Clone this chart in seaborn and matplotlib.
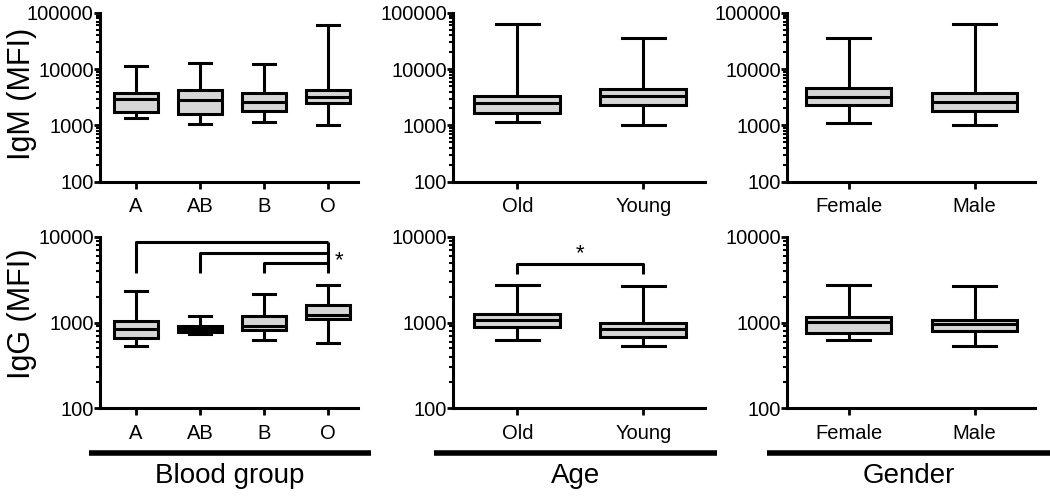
import numpy as np
import pandas as pd
import seaborn as sns
from matplotlib import pyplot as plt
from matplotlib import ticker
from matplotlib.lines import Line2D

BLOOD = ["A", "AB", "B", "O"]
AGE = ["Old", "Young"]
GENDER = ["Female", "Male"]

# five-number summaries: min, q1, median, q3, max
IGM_BLOOD = [[1365, 1740, 2900, 3790, 11300],
             [1040, 1580, 2820, 4280, 13100],
             [1130, 1780, 2640, 3790, 12400],
             [1030, 2460, 3140, 4340, 62400]]
IGM_AGE = [[1140, 1660, 2510, 3360, 63000],
           [1030, 2300, 3300, 4430, 36500]]
IGM_GENDER = [[1120, 2300, 3160, 4690, 36500],
              [1030, 1820, 2620, 3700, 63000]]

IGG_BLOOD = [[537, 659, 847, 1040, 2350],
             [734, 765, 847, 905, 1200],
             [625, 811, 910, 1200, 2170],
             [573, 1100, 1220, 1585, 2740]]
IGG_AGE = [[625, 893, 1070, 1250, 2740],
           [537, 671, 834, 986, 2690]]
IGG_GENDER = [[625, 760, 1020, 1170, 2740],
              [537, 796, 961, 1080, 2690]]

# significance brackets (bottom row): (from, to, bracket height)
BLOOD_BRACKETS = [("A", "O", 8750), ("AB", "O", 6410), ("B", "O", 4900)]
BRACKET_FOOT = 3740
AGE_BRACKET = ("Old", "Young", 4770, 3650)

FILL = "#d6d6d6"
LW = 2.2

plt.rcParams["font.family"] = ["Liberation Sans", "DejaVu Sans"]


def long_df(cats, summaries):
    rows = []
    for cat, vals in zip(cats, summaries):
        for v in vals:
            rows.append({"group": cat, "value": v})
    return pd.DataFrame(rows)


def draw(ax, cats, summaries, ylim, xlim):
    df = long_df(cats, summaries)
    sns.boxplot(data=df, x="group", y="value", order=cats, whis=(0, 100),
                width=0.68, color=FILL, saturation=1, linecolor="black",
                linewidth=LW, log_scale=True, ax=ax)
    ax.set_ylim(*ylim)
    ax.set_xlim(*xlim)
    ax.yaxis.set_major_locator(ticker.LogLocator(base=10, numticks=10))
    ax.yaxis.set_major_formatter(ticker.FuncFormatter(lambda v, _: f"{v:.0f}"))
    ax.yaxis.set_minor_locator(ticker.LogLocator(base=10, subs=np.arange(2, 10), numticks=20))
    ax.yaxis.set_minor_formatter(ticker.NullFormatter())
    ax.set_xlabel("")
    ax.set_ylabel("")
    sns.despine(ax=ax)
    for s in ("left", "bottom"):
        ax.spines[s].set_linewidth(LW)
    ax.tick_params(axis="both", which="major", direction="out", length=4,
                   width=2, labelsize=14.5, pad=0.5)
    ax.tick_params(axis="x", pad=6, length=5)
    ax.tick_params(axis="y", which="minor", direction="out", length=3, width=1.5)


fig = plt.figure(figsize=(10.5, 4.99), dpi=100)

lefts = [100, 453, 787]
rights = [358, 705, 1035]
xlims = [(-0.56, 3.47), (-0.51, 1.49), (-0.49, 1.48)]
top_row = (13, 181.5)
bot_row = (236.7, 408.3)
W, H = 1050, 499


def make_ax(i, row):
    l, r = lefts[i], rights[i]
    t, b = row
    return fig.add_axes([l / W, 1 - b / H, (r - l) / W, (b - t) / H])


cats_list = [BLOOD, AGE, GENDER]
igm = [IGM_BLOOD, IGM_AGE, IGM_GENDER]
igg = [IGG_BLOOD, IGG_AGE, IGG_GENDER]

for i in range(3):
    ax_t = make_ax(i, top_row)
    draw(ax_t, cats_list[i], igm[i], (100, 100000), xlims[i])
    ax_b = make_ax(i, bot_row)
    draw(ax_b, cats_list[i], igg[i], (100, 10000), xlims[i])
    if i == 0:
        ax_t.set_ylabel("IgM (MFI)", fontsize=22)
        ax_t.yaxis.set_label_coords(-0.245, 0.52)
        ax_b.set_ylabel("IgG (MFI)", fontsize=22)
        ax_b.yaxis.set_label_coords(-0.245, 0.55)
        # brackets to O
        xo = BLOOD.index("O")
        for a, b, h in BLOOD_BRACKETS:
            xa = BLOOD.index(a)
            ax_b.plot([xa, xa, xo], [BRACKET_FOOT, h, h], color="black",
                      lw=LW, solid_capstyle="butt", clip_on=False)
        ax_b.plot([xo, xo], [BRACKET_FOOT, BLOOD_BRACKETS[0][2]], color="black",
                  lw=LW, solid_capstyle="butt", clip_on=False)
        ax_b.text(xo + 0.17, 5200, "*", fontsize=16, ha="center", va="center")
    if i == 1:
        a, b, h, foot = AGE_BRACKET
        xa, xb = AGE.index(a), AGE.index(b)
        ax_b.plot([xa, xa, xb, xb], [foot, h, h, foot], color="black",
                  lw=LW, solid_capstyle="butt", clip_on=False)
        ax_b.text((xa + xb) / 2, h * 1.0, "*", fontsize=16, ha="center", va="bottom")

# group bars and labels beneath each column
groups = ["Blood group", "Age", "Gender"]
bars = [(89, 371), (434, 717), (767, 1050)]
for name, (x0, x1) in zip(groups, bars):
    fig.add_artist(Line2D([x0 / W, x1 / W], [1 - 452.5 / H, 1 - 452.5 / H],
                          color="black", lw=4, solid_capstyle="butt"))
    fig.text((x0 + x1) / 2 / W, 1 - 476 / H, name, fontsize=20,
             ha="center", va="center")

fig.savefig("out.png", dpi=100)
